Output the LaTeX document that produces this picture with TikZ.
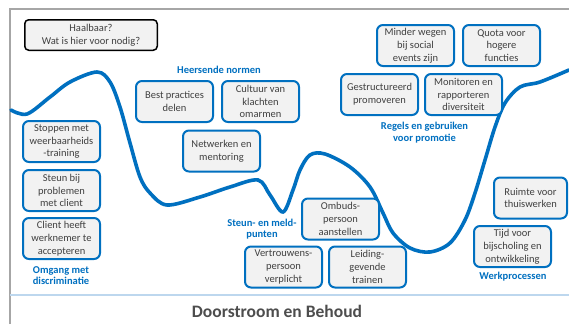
\documentclass[tikz,border=0pt]{standalone}
\usepackage{fontspec}
\setmainfont{Carlito}
\definecolor{bblue}{HTML}{0070C0}
\definecolor{boxfill}{HTML}{F2F2F2}
\definecolor{txtgray}{HTML}{404040}
\definecolor{framegray}{HTML}{A6A6A6}
\definecolor{lightline}{HTML}{BDD7EE}
\definecolor{titlegray}{HTML}{4D4D4D}
\tikzset{
  itembox/.style={draw=bblue, line width=2pt, fill=boxfill, rounded corners=6pt,
    minimum width=77pt, minimum height=41pt, inner sep=1pt, align=center,
    text=txtgray, font=\fontsize{10.5}{12.8}\selectfont},
  grouplabel/.style={text=bblue, align=center, inner sep=0pt,
    font=\fontsize{10.5}{11.5}\selectfont\bfseries},
  curveline/.style={draw=bblue, line width=3.6pt, line cap=round},
}
\begin{document}
\begin{tikzpicture}[x=1pt,y=-1pt]
\useasboundingbox (0,0) rectangle (569,324);
\fill[white] (0,0) rectangle (569,324);
% frame
\draw[framegray, line width=1.5pt] (10,324) -- (10,9) -- (569,9);
\draw[lightline, line width=1.2pt] (10,295) -- (569,295);
% curve
\draw[curveline] plot[smooth, tension=0.55] coordinates {
 (11,110) (27,114) (50,97) (70,82) (97,72) (110,82) (120,107) (130,143)
 (140,177) (150,193) (167,205) (200,197) (230,187) (258,180) (270,195)
 (283,212) (293,190) (300,170) (310,155) (325,154) (350,167) (370,187)
 (383,213) (393,233) (410,248) (430,252) (450,243) (465,220) (475,193)
 (485,160) (495,127) (505,103) (520,87) (540,82) (569,70)};
% top-left question box
\node[draw=black, line width=1.5pt, fill=boxfill, rounded corners=4pt,
  minimum width=132.5pt, minimum height=30.5pt, align=center, text=txtgray,
  font=\fontsize{10.5}{13}\selectfont] (haal) at (91,35) {Haalbaar?\\Wat is hier voor nodig?};
% Heersende normen
\node[grouplabel] (lnorm) at (219,70) {Heersende normen};
\node[itembox] (best) at (174.5,101.5) {Best practices\\delen};
\node[itembox] (cult) at (260.5,101.5) {Cultuur van\\klachten\\omarmen};
\node[itembox] (netw) at (221.5,151) {Netwerken en\\mentoring};
% Omgang met discriminatie
\node[itembox] (stop) at (61.5,141.5) {Stoppen met\\weerbaarheids\\-training};
\node[itembox] (steun) at (61.5,190.5) {Steun bij\\problemen\\met client};
\node[itembox] (client) at (61.5,238.5) {Client heeft\\werknemer te\\accepteren};
\node[grouplabel] (lomg) at (61,275.5) {Omgang met\\discriminatie};
% Steun- en meldpunten
\node[grouplabel] (lsteun) at (262,229) {Steun- en meld-\\punten};
\node[itembox] (vert) at (283.5,267) {Vertrouwens-\\persoon\\verplicht};
\node[itembox] (omb) at (340.5,219) {Ombuds-\\persoon\\aanstellen};
\node[itembox] (leid) at (367.5,267) {Leiding-\\gevende\\trainen};
% Regels en gebruiken voor promotie
\node[itembox] (mind) at (415.5,45.5) {Minder wegen\\bij social\\events zijn};
\node[itembox] (quota) at (501.5,45.5) {Quota voor\\hogere\\functies};
\node[itembox] (gestr) at (379.5,94.5) {Gestructureerd\\promoveren};
\node[itembox] (monit) at (463.5,94.5) {Monitoren en\\rapporteren\\diversiteit};
\node[grouplabel] (lregels) at (424.5,132.5) {Regels en gebruiken\\voor promotie};
% Werkprocessen
\node[itembox, minimum width=73pt] (ruimte) at (530.5,198) {Ruimte voor\\thuiswerken};
\node[itembox] (tijd) at (512.5,246.5) {Tijd voor\\bijscholing en\\ontwikkeling};
\node[grouplabel] (lwerk) at (513,277) {Werkprocessen};
% title
\node[text=titlegray, font=\fontsize{17.5}{20}\selectfont\bfseries, inner sep=0pt] (title) at (277,311) {Doorstroom en Behoud};
\end{tikzpicture}
\end{document}
